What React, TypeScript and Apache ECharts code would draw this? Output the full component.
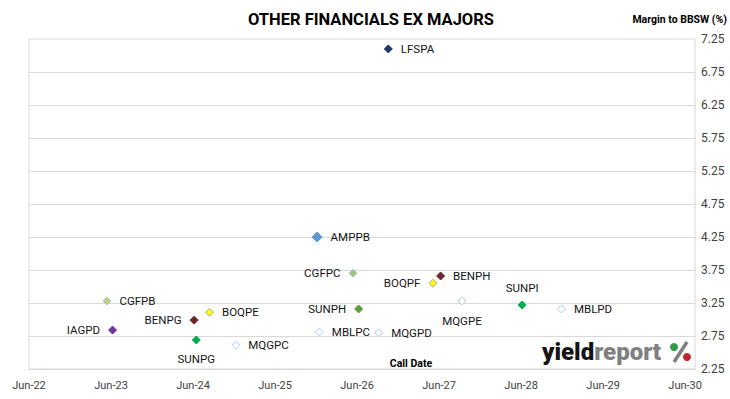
import React, { useEffect, useRef } from 'react';
import * as echarts from 'echarts';

// Security codes, call dates and margins to BBSW (%)
const codes = ['LFSPA', 'AMPPB', 'CGFPC', 'BOQPF', 'BENPH', 'MQGPE', 'SUNPH', 'MBLPC', 'MQGPD', 'MQGPC', 'SUNPI', 'MBLPD', 'CGFPB', 'BOQPE', 'BENPG', 'IAGPD', 'SUNPG'];
const callDates = ['2026-10-18', '2025-12-05', '2026-05-14', '2027-05-05', '2027-06-08', '2027-09-11', '2026-06-08', '2025-12-15', '2026-09-05', '2024-12-08', '2028-06-05', '2028-11-27', '2023-05-14', '2024-08-13', '2024-06-05', '2023-06-08', '2024-06-15'];
const margins = [7.10, 4.25, 3.70, 3.55, 3.66, 3.28, 3.16, 2.81, 2.80, 2.61, 3.22, 3.16, 3.28, 3.11, 2.99, 2.84, 2.69];

// Axis ticks
const xTickLabels = ['Jun-22', 'Jun-23', 'Jun-24', 'Jun-25', 'Jun-26', 'Jun-27', 'Jun-28', 'Jun-29', 'Jun-30'];
const yGridValues = [2.75, 3.25, 3.75, 4.25, 4.75, 5.25, 5.75, 6.25, 6.75];

const BASE = Date.UTC(2022, 5, 1);
const toYears = (s: string) => (Date.parse(s + 'T00:00:00Z') - BASE) / (365.25 * 86400000);

const HOLLOW = { fill: '#ffffff', border: '#b4c7e7' };
const styles: Record<string, { fill: string; border: string; pos: string; size?: number }> = {
  LFSPA: { fill: '#1f3864', border: '#1f3864', pos: 'right' },
  AMPPB: { fill: '#5b9bd5', border: '#5b9bd5', pos: 'right', size: 10 },
  CGFPC: { fill: '#a9bd7a', border: '#9dc3e6', pos: 'left' },
  BOQPF: { fill: '#ffff00', border: '#a5a5a5', pos: 'left' },
  BENPH: { fill: '#6b2a2a', border: '#6b2a2a', pos: 'right' },
  MQGPE: { ...HOLLOW, pos: 'bottom' },
  SUNPH: { fill: '#5f9a3c', border: '#5f9a3c', pos: 'left' },
  MBLPC: { ...HOLLOW, pos: 'right' },
  MQGPD: { ...HOLLOW, pos: 'right' },
  MQGPC: { ...HOLLOW, pos: 'right' },
  SUNPI: { fill: '#00b050', border: '#00b050', pos: 'top' },
  MBLPD: { ...HOLLOW, pos: 'right' },
  CGFPB: { fill: '#cccc7a', border: '#9dc3e6', pos: 'right' },
  BOQPE: { fill: '#ffff00', border: '#a5a5a5', pos: 'right' },
  BENPG: { fill: '#6b2a2a', border: '#6b2a2a', pos: 'left' },
  IAGPD: { fill: '#7030a0', border: '#7030a0', pos: 'left' },
  SUNPG: { fill: '#00b050', border: '#00b050', pos: 'bottom' },
};

const FONT = 'Roboto, "Liberation Sans", sans-serif';

export default function App() {
  const ref = useRef<HTMLDivElement>(null);
  useEffect(() => {
    if (!ref.current) return;
    const chart = echarts.init(ref.current, undefined, { renderer: 'svg' });
    const data = codes.map((c, i) => {
      const s = styles[c];
      return {
        name: c,
        value: [toYears(callDates[i]), margins[i]],
        symbolSize: s.size ?? 8,
        itemStyle: { color: s.fill, borderColor: s.border, borderWidth: 1, opacity: 1 },
        label: {
          show: true,
          position: s.pos,
          distance: s.pos === 'bottom' ? 9 : s.pos === 'top' ? 6 : 8,
          formatter: c,
          color: '#141414',
          fontSize: 11.5,
          fontFamily: FONT,
        },
      };
    });
    chart.setOption({
      animation: false,
      backgroundColor: '#ffffff',
      grid: { left: 29, right: 35, top: 39, bottom: 30, show: true, borderColor: '#d9d9d9', borderWidth: 1, backgroundColor: 'transparent' },
      xAxis: {
        type: 'value',
        min: 0,
        max: 8.12,
        interval: 1,
        axisLine: { show: true, lineStyle: { color: '#d9d9d9' } },
        axisTick: { show: false },
        splitLine: { show: false },
        axisLabel: {
          color: '#404040',
          fontSize: 11,
          fontFamily: FONT,
          margin: 11,
          formatter: (v: number) => (Math.abs(v - Math.round(v)) < 1e-6 ? xTickLabels[Math.round(v)] ?? '' : ''),
        },
      },
      yAxis: {
        type: 'value',
        position: 'right',
        min: 2.25,
        max: 7.25,
        interval: 0.25,
        axisLine: { show: false },
        axisTick: { show: false },
        splitLine: { show: false },
        axisLabel: {
          color: '#404040',
          fontSize: 12,
          fontFamily: FONT,
          margin: 6,
          formatter: (v: number) => (Math.round(v * 4) % 2 === 1 ? v.toFixed(2) : ''),
        },
      },
      graphic: [
        { type: 'text', x: 371, y: 19, style: { text: 'OTHER FINANCIALS EX MAJORS', font: `bold 16.5px ${FONT}`, fill: '#000000', align: 'center', verticalAlign: 'middle' } },
        { type: 'text', x: 727, y: 19, style: { text: 'Margin to BBSW (%)', font: `bold 10.5px ${FONT}`, fill: '#000000', align: 'right', verticalAlign: 'middle' } },
        { type: 'text', x: 411, y: 363, style: { text: 'Call Date', font: `bold 10.5px ${FONT}`, fill: '#000000', align: 'center', verticalAlign: 'middle' } },
        {
          type: 'text', x: 542, y: 352, z: 10,
          style: {
            text: '{a|yield}{b|report}',
            verticalAlign: 'middle',
            rich: {
              a: { font: `900 24px ${FONT}`, fill: '#141414' },
              b: { font: `900 24px ${FONT}`, fill: '#808080' },
            },
          },
        },
        { type: 'line', z: 10, shape: { x1: 687, y1: 342, x2: 674, y2: 362 }, style: { stroke: '#7f7f7f', lineWidth: 3.5 } },
        { type: 'circle', z: 11, shape: { cx: 674, cy: 347, r: 4 }, style: { fill: '#2e9b45' } },
        { type: 'circle', z: 11, shape: { cx: 687, cy: 357, r: 4 }, style: { fill: '#c0262d' } },
      ],
      series: [
        {
          type: 'scatter',
          z: 1,
          data: [],
          silent: true,
          markLine: {
            silent: true,
            symbol: ['none', 'none'],
            label: { show: false },
            lineStyle: { color: '#d9d9d9', type: 'solid', width: 1 },
            data: yGridValues.map((v) => ({ yAxis: v })),
          },
        },
        {
          type: 'scatter',
          z: 5,
          symbol: 'diamond',
          data,
          emphasis: { disabled: true },
        },
      ],
    });
    return () => chart.dispose();
  }, []);
  return <div ref={ref} style={{ width: 730, height: 399, position: 'absolute', left: 0, top: 0 }} />;
}
